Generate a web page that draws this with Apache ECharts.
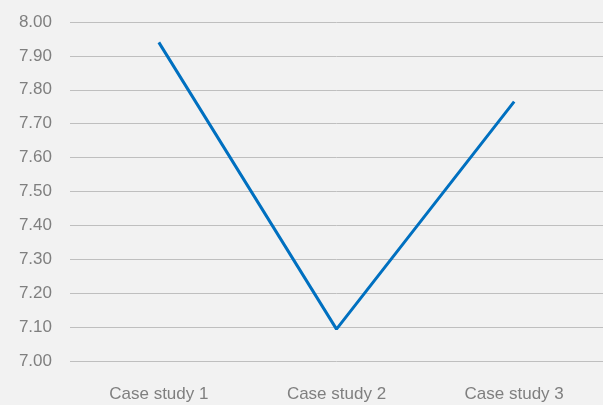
<!DOCTYPE html>
<html>
<head>
<meta charset="utf-8">
<script src="https://cdn.jsdelivr.net/npm/echarts@6/dist/echarts.min.js"></script>
<style>
  html, body { margin: 0; padding: 0; background: #f2f2f2; }
  #chart { width: 603px; height: 405px; }
</style>
</head>
<body>
<div id="chart"></div>
<script>
// Categories and scores
const categories = ['Case study 1', 'Case study 2', 'Case study 3'];
const scores = [7.94, 7.094, 7.765];

// Value axis range and step
const yMin = 7.0;
const yMax = 8.0;
const yStep = 0.1;

const textColor = '#7f7f7f';
const fontFamily = '"Liberation Sans", Arial, sans-serif';

const chart = echarts.init(document.getElementById('chart'), null, { renderer: 'canvas' });
chart.setOption({
  backgroundColor: '#f2f2f2',
  animation: false,
  grid: { left: 70, right: 0, top: 22, bottom: 44, containLabel: false },
  xAxis: {
    type: 'category',
    data: categories,
    boundaryGap: true,
    axisLine: { show: false },
    axisTick: { show: false },
    axisLabel: { color: textColor, fontSize: 17, fontFamily: fontFamily, margin: 25 }
  },
  yAxis: {
    type: 'value',
    min: yMin,
    max: yMax,
    interval: yStep,
    axisLine: { show: false },
    axisTick: { show: false },
    splitLine: { lineStyle: { color: '#bfbfbf', width: 1 } },
    axisLabel: {
      color: textColor, fontSize: 17, fontFamily: fontFamily, margin: 18,
      formatter: v => v.toFixed(2)
    }
  },
  series: [{
    type: 'line',
    data: scores,
    symbol: 'none',
    lineStyle: { color: '#0070c0', width: 3 },
    itemStyle: { color: '#0070c0' }
  }]
});
</script>
</body>
</html>
